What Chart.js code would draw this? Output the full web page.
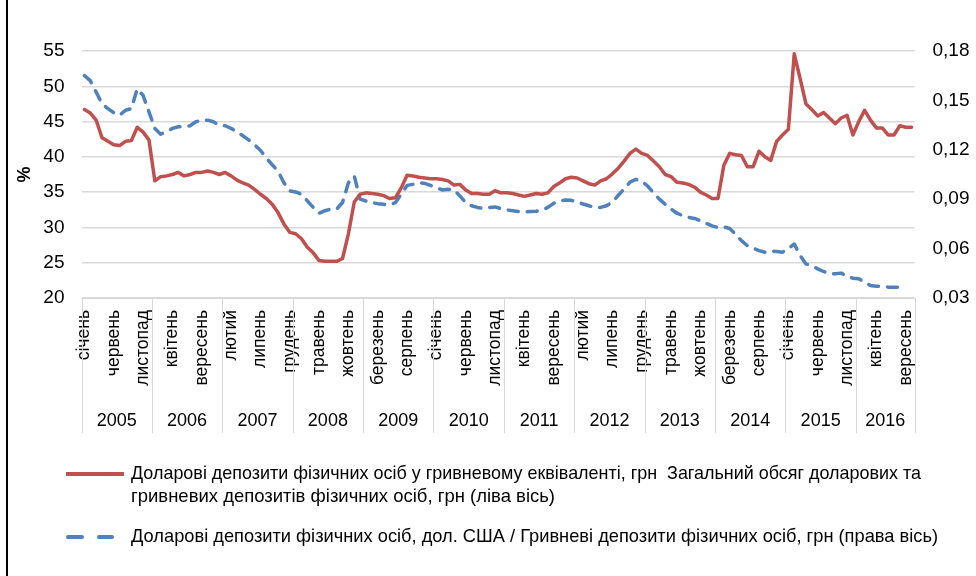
<!DOCTYPE html>
<html lang="uk">
<head>
<meta charset="utf-8">
<title>Доларові депозити фізичних осіб</title>
<script src="https://cdn.jsdelivr.net/npm/chart.js@4.4.1/dist/chart.umd.min.js"></script>
<style>
  html, body { margin: 0; padding: 0; background: #fff; }
  #chart { display: block; }
</style>
</head>
<body>
<canvas id="chart" width="976" height="576"></canvas>
<script>
// Роки та назви місяців для двох рівнів осі X
const YEARS = [2005, 2006, 2007, 2008, 2009, 2010, 2011, 2012, 2013, 2014, 2015, 2016];
const MONTH_NAMES = [
    "січень", "лютий", "березень", "квітень", "травень", "червень",
    "липень", "серпень", "вересень", "жовтень", "листопад", "грудень",
];

// Частка доларових депозитів у гривневому еквіваленті, % (ліва вісь)
const USD_SHARE = [
    46.7, 46.2, 45.2, 42.7, 42.2, 41.7, 41.6, 42.2, 42.3, 44.2, 43.5, 42.4,
    36.6, 37.2, 37.3, 37.5, 37.8, 37.3, 37.5, 37.8, 37.8, 38.0, 37.8, 37.5,
    37.8, 37.3, 36.7, 36.3, 36.0, 35.4, 34.7, 34.1, 33.3, 32.1, 30.5, 29.3,
    29.1, 28.4, 27.2, 26.4, 25.3, 25.2, 25.2, 25.2, 25.6, 29.1, 33.6, 34.7,
    34.9, 34.8, 34.7, 34.5, 34.1, 34.2, 35.6, 37.4, 37.3, 37.1, 37.0, 36.9,
    36.9, 36.8, 36.6, 36.0, 36.1, 35.3, 34.8, 34.8, 34.7, 34.7, 35.2, 34.9,
    34.9, 34.8, 34.6, 34.4, 34.6, 34.8, 34.7, 34.9, 35.8, 36.3, 36.9, 37.1,
    37.0, 36.6, 36.2, 36.0, 36.6, 36.9, 37.6, 38.4, 39.4, 40.5, 41.1, 40.5,
    40.2, 39.4, 38.6, 37.5, 37.2, 36.4, 36.3, 36.1, 35.7, 35.0, 34.6, 34.1,
    34.1, 38.8, 40.5, 40.3, 40.2, 38.6, 38.6, 40.8, 40.0, 39.5, 42.2, 43.1,
    43.9, 54.6, 51.1, 47.5, 46.7, 45.8, 46.3, 45.5, 44.7, 45.5, 45.9, 43.1,
    45.0, 46.6, 45.2, 44.1, 44.1, 43.1, 43.1, 44.4, 44.2, 44.2,
];

// Доларові депозити, дол. США / гривневі депозити, грн (права вісь)
const USD_TO_UAH_RATIO = [
    0.165, 0.162, 0.155, 0.148, 0.145, 0.1425, 0.141, 0.144, 0.145, 0.157, 0.153, 0.143,
    0.133, 0.1295, 0.131, 0.133, 0.134, 0.134, 0.1346, 0.137, 0.138, 0.138, 0.137, 0.135,
    0.1346, 0.133, 0.131, 0.1285, 0.126, 0.123, 0.1197, 0.115, 0.111, 0.107, 0.100, 0.095,
    0.0944, 0.093, 0.089, 0.085, 0.0815, 0.083, 0.084, 0.084, 0.088, 0.100, 0.104, 0.090,
    0.0889, 0.0879, 0.0873, 0.0869, 0.0865, 0.0879, 0.093, 0.0984, 0.099, 0.100, 0.0996, 0.0984,
    0.097, 0.0956, 0.096, 0.0956, 0.092, 0.088, 0.086, 0.085, 0.0845, 0.085, 0.0853, 0.0843,
    0.0835, 0.083, 0.0825, 0.0823, 0.0825, 0.0827, 0.0835, 0.085, 0.0875, 0.0889, 0.0895, 0.0893,
    0.0883, 0.0871, 0.086, 0.085, 0.085, 0.086, 0.0883, 0.0923, 0.0963, 0.1004, 0.102, 0.101,
    0.098, 0.094, 0.090, 0.087, 0.084, 0.0815, 0.080, 0.079, 0.0783, 0.077, 0.0753, 0.0738,
    0.0728, 0.0732, 0.0722, 0.0688, 0.0648, 0.0618, 0.0602, 0.0588, 0.0578, 0.0586, 0.0582, 0.0578,
    0.060, 0.0628, 0.0558, 0.0507, 0.0497, 0.0477, 0.0461, 0.0447, 0.0447, 0.0451, 0.0433, 0.042,
    0.0417, 0.0396, 0.0376, 0.0372, 0.037, 0.0366, 0.0366, 0.0366, null, null,
];

const LEFT_TICKS = { min: 20, max: 55, step: 5 };
const RIGHT_TICKS = { min: 0.03, max: 0.18, step: 0.03 };

const LEGEND_LINES = [
    [
        "Доларові депозити фізичних осіб у гривневому еквіваленті, грн  Загальний обсяг доларових та",
        "гривневих депозитів фізичних осіб, грн (ліва вісь)",
    ],
    [
        "Доларові депозити фізичних осіб, дол. США / Гривневі депозити фізичних осіб, грн (права вісь)",
    ],
];
// ширина кожного рядка легенди, як у вузькому шрифті оригіналу
const LEGEND_WIDTHS = [[790, 424], [807]];

const FONT_FAMILY = "'Liberation Sans', Arial, sans-serif";
const GRID_COLOR = "#d9d9d9";
const RED = "#C0504D";
const BLUE = "#4F81BD";

// Категорії: місяць + рік, стільки, скільки точок у найдовшому ряді
const CAT_MONTHS = [];
const CAT_YEARS = [];
for (const year of YEARS) {
    for (const month of MONTH_NAMES) {
        if (CAT_MONTHS.length >= USD_SHARE.length) break;
        CAT_MONTHS.push(month);
        CAT_YEARS.push(year);
    }
}

const X_AXIS_HEIGHT = 135;

/** Рамка, підпис «%», другий рівень осі (роки) та легенда в стилі Excel */
const excelExtras = {
    id: "excelExtras",
    afterDraw(chart) {
        const { ctx, chartArea: area } = chart;
        const xScale = chart.scales.x;
        const n = chart.data.labels.length;
        const step = (xScale.right - xScale.left) / n;
        const bottom = area.bottom + X_AXIS_HEIGHT;

        ctx.save();

        // роздільники років
        ctx.strokeStyle = GRID_COLOR;
        ctx.lineWidth = 1;
        const bounds = [0];
        for (let i = 1; i < n; i++) {
            if (CAT_YEARS[i] !== CAT_YEARS[i - 1]) bounds.push(i);
        }
        bounds.push(n);
        bounds.forEach((b) => {
            const x = Math.round(xScale.left + b * step) + 0.5;
            ctx.beginPath();
            ctx.moveTo(x, area.bottom);
            ctx.lineTo(x, bottom);
            ctx.stroke();
        });

        // підписи років
        ctx.fillStyle = "#000";
        ctx.font = `18px ${FONT_FAMILY}`;
        ctx.textAlign = "center";
        ctx.textBaseline = "middle";
        for (let k = 0; k < bounds.length - 1; k++) {
            const cx = xScale.left + ((bounds[k] + bounds[k + 1]) / 2) * step;
            ctx.fillText(String(CAT_YEARS[bounds[k]]), cx, area.bottom + 123);
        }

        // назва лівої осі
        ctx.save();
        ctx.translate(25, (area.top + area.bottom) / 2);
        ctx.rotate(-Math.PI / 2);
        ctx.font = `bold 18px ${FONT_FAMILY}`;
        ctx.fillText("%", 0, 0);
        ctx.restore();

        // легенда
        ctx.font = `19px ${FONT_FAMILY}`;
        ctx.textAlign = "left";
        const rows = [
            { y: 474, k: 0, ds: chart.data.datasets[0] },
            { y: 537, k: 1, ds: chart.data.datasets[1] },
        ];
        rows.forEach((row) => {
            ctx.save();
            ctx.strokeStyle = row.ds.borderColor;
            ctx.lineWidth = 4;
            ctx.lineCap = row.ds.borderDash ? "round" : "butt";
            ctx.setLineDash(row.ds.borderDash ? [14, 17] : []);
            ctx.beginPath();
            ctx.moveTo(row.ds.borderDash ? 68 : 66, row.y);
            ctx.lineTo(row.ds.borderDash ? 112 : 124, row.y);
            ctx.stroke();
            ctx.restore();
            LEGEND_LINES[row.k].forEach((line, j) => {
                const squeeze = LEGEND_WIDTHS[row.k][j] / ctx.measureText(line).width;
                ctx.save();
                ctx.translate(131, row.y + j * 23);
                ctx.scale(squeeze, 1);
                ctx.fillText(line, 0, 0);
                ctx.restore();
            });
        });

        // ліва межа рамки
        ctx.strokeStyle = "#000";
        ctx.lineWidth = 2;
        ctx.beginPath();
        ctx.moveTo(7, 0);
        ctx.lineTo(7, chart.height);
        ctx.stroke();

        ctx.restore();
    },
};

const tickFont = { family: FONT_FAMILY, size: 19 };

new Chart(document.getElementById("chart"), {
    type: "line",
    data: {
        labels: CAT_MONTHS,
        datasets: [
            {
                label: LEGEND_LINES[0].join(" "),
                data: USD_SHARE,
                yAxisID: "y",
                borderColor: RED,
                borderWidth: 3.5,
                borderJoinStyle: "round",
                borderCapStyle: "round",
                pointRadius: 0,
                tension: 0,
                fill: false,
            },
            {
                label: LEGEND_LINES[1][0],
                data: USD_TO_UAH_RATIO,
                yAxisID: "y1",
                borderColor: BLUE,
                borderWidth: 3.5,
                borderDash: [10, 9],
                borderCapStyle: "round",
                borderJoinStyle: "round",
                pointRadius: 0,
                tension: 0,
                fill: false,
            },
        ],
    },
    options: {
        responsive: false,
        animation: false,
        devicePixelRatio: 1,
        layout: { padding: { top: 51, right: 0, bottom: 143, left: 0 } },
        plugins: {
            legend: { display: false },
            tooltip: { enabled: false },
        },
        scales: {
            x: {
                offset: true,
                grid: { display: false, drawTicks: false },
                border: { display: true, color: GRID_COLOR, width: 1 },
                ticks: {
                    autoSkip: false,
                    minRotation: 90,
                    maxRotation: 90,
                    padding: 12,
                    color: "#000",
                    font: { family: FONT_FAMILY, size: 17.5 },
                    callback: (value, index) => (index % 5 === 0 ? CAT_MONTHS[index] : ""),
                },
                afterFit: (scale) => {
                    scale.height = X_AXIS_HEIGHT;
                },
            },
            y: {
                position: "left",
                min: LEFT_TICKS.min,
                max: LEFT_TICKS.max,
                ticks: { stepSize: LEFT_TICKS.step, padding: 17, color: "#000", font: tickFont },
                grid: { color: GRID_COLOR, lineWidth: 1.5, drawTicks: false },
                border: { display: false },
                afterFit: (scale) => {
                    scale.width = 81.5;
                },
            },
            y1: {
                position: "right",
                min: RIGHT_TICKS.min,
                max: RIGHT_TICKS.max,
                ticks: {
                    stepSize: RIGHT_TICKS.step,
                    padding: 18,
                    color: "#000",
                    font: tickFont,
                    callback: (value) => value.toFixed(2).replace(".", ","),
                },
                grid: { drawOnChartArea: false, drawTicks: false },
                border: { display: false },
                afterFit: (scale) => {
                    scale.width = 61.5;
                },
            },
        },
    },
    plugins: [excelExtras],
});
</script>
</body>
</html>
